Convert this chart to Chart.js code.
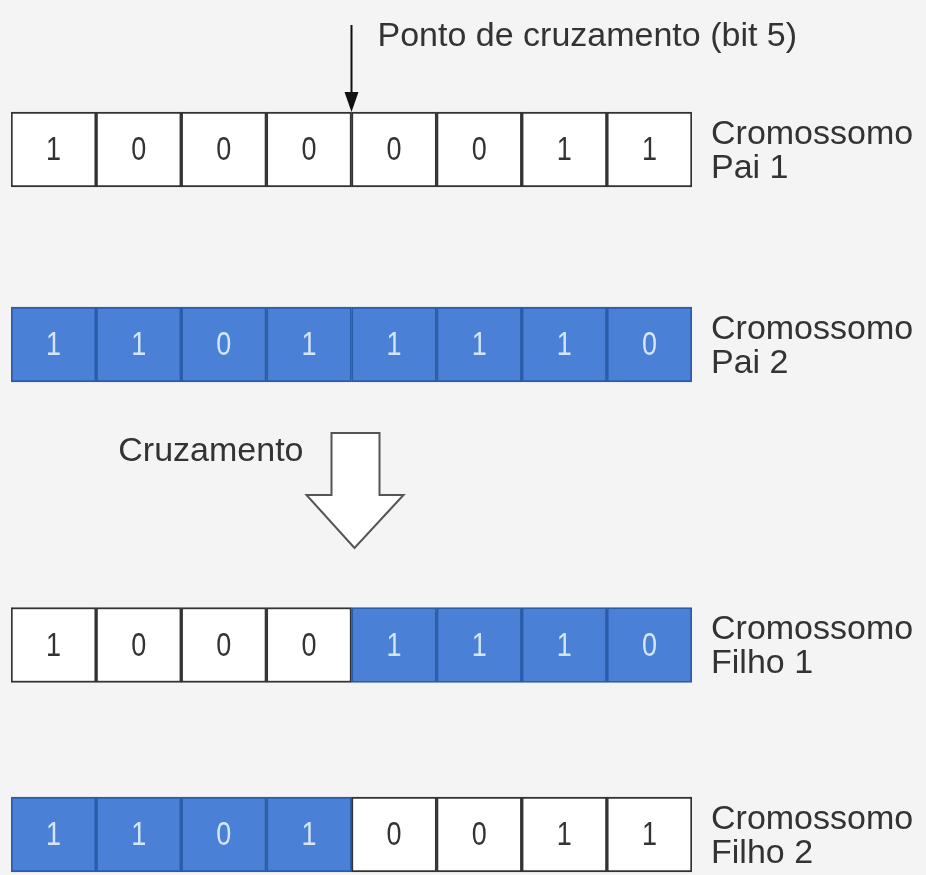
<!DOCTYPE html>
<html>
<head>
<meta charset="utf-8">
<script src="https://cdn.jsdelivr.net/npm/chart.js@4"></script>
<style>
  html, body { margin: 0; padding: 0; background: #f4f4f4; }
  canvas { display: block; }
</style>
</head>
<body>
<canvas id="cross" width="926" height="875"></canvas>
<script>
// bit positions along the chromosome
const bits = ["1", "2", "3", "4", "5", "6", "7", "8"];

// chromosome rows
const rowNames = ["Pai 1", "Pai 2", "Filho 1", "Filho 2"];
const pai1 = [1, 0, 0, 0, 0, 0, 1, 1];
const pai2 = [1, 1, 0, 1, 1, 1, 1, 0];
const filho1 = [1, 0, 0, 0, 1, 1, 1, 0];
const filho2 = [1, 1, 0, 1, 0, 0, 1, 1];
// which parent each gene comes from (1 = Pai 1, 2 = Pai 2)
const src1 = [1, 1, 1, 1, 1, 1, 1, 1];
const src2 = [2, 2, 2, 2, 2, 2, 2, 2];
const srcF1 = [1, 1, 1, 1, 2, 2, 2, 2];
const srcF2 = [2, 2, 2, 2, 1, 1, 1, 1];

const crossBit = 5;
const titleText = "Ponto de cruzamento (bit 5)";
const opText = "Cruzamento";
const rowPrefix = "Cromossomo";

// layout (y scale runs 0..875 top to bottom)
const rowCenter = [149.5, 344.5, 645, 834.5];
const rowHalf = 37.5;

const rows = [pai1, pai2, filho1, filho2];
const srcs = [src1, src2, srcF1, srcF2];

const white = "#ffffff";
const blue = "#4a80d5";
const blueEdge = "#2b5caa";
const dark = "#333333";
const font = "'Liberation Sans', Arial, sans-serif";

const datasets = rows.map((vals, r) => ({
  label: rowNames[r],
  data: vals.map(() => [rowCenter[r] - rowHalf, rowCenter[r] + rowHalf]),
  bits: vals,
  backgroundColor: srcs[r].map(s => s === 1 ? white : blue),
  borderColor: srcs[r].map(s => s === 1 ? dark : blueEdge),
  borderWidth: 2,
  borderSkipped: false,
  grouped: false,
  categoryPercentage: 1,
  barPercentage: 1
}));

const labelsPlugin = {
  id: "diagram",
  afterDatasetsDraw(chart) {
    const ctx = chart.ctx;
    const x = chart.scales.x;
    const y = chart.scales.y;
    ctx.save();
    ctx.textAlign = "center";
    ctx.textBaseline = "middle";
    // digits in cells (slightly tall, like the original)
    ctx.font = "27px " + font;
    chart.data.datasets.forEach((ds, d) => {
      const meta = chart.getDatasetMeta(d);
      meta.data.forEach((bar, i) => {
        ctx.fillStyle = srcs[d][i] === 1 ? "#333333" : "#d6e6fa";
        const cy = (bar.y + bar.base) / 2 + 2;
        ctx.save();
        ctx.translate(bar.x, cy);
        ctx.scale(1, 1.2);
        ctx.fillText(String(ds.bits[i]), 0, 0);
        ctx.restore();
      });
    });

    // row names on the right
    ctx.textAlign = "left";
    ctx.fillStyle = "#333333";
    ctx.font = "34px " + font;
    const right = chart.chartArea.right;
    rowNames.forEach((name, r) => {
      const cy = y.getPixelForValue(rowCenter[r]);
      ctx.fillText(rowPrefix, right + 19, cy - 15);
      ctx.fillText(name, right + 19, cy + 19);
    });

    // crossover point arrow
    const cut = (x.getPixelForValue(crossBit - 2) + x.getPixelForValue(crossBit - 1)) / 2;
    const top1 = y.getPixelForValue(rowCenter[0] - rowHalf);
    ctx.strokeStyle = "#111111";
    ctx.fillStyle = "#111111";
    ctx.lineWidth = 2;
    ctx.beginPath();
    ctx.moveTo(cut, 25);
    ctx.lineTo(cut, top1 - 10);
    ctx.stroke();
    ctx.beginPath();
    ctx.moveTo(cut - 7, top1 - 20);
    ctx.lineTo(cut + 7, top1 - 20);
    ctx.lineTo(cut, top1);
    ctx.closePath();
    ctx.fill();
    ctx.fillStyle = "#333333";
    ctx.font = "34px " + font;
    ctx.fillText(titleText, cut + 26, 37);

    // hollow crossover arrow
    const ax = cut + 3;
    ctx.beginPath();
    ctx.moveTo(ax - 23, 433);
    ctx.lineTo(ax + 25, 433);
    ctx.lineTo(ax + 25, 495);
    ctx.lineTo(ax + 49, 495);
    ctx.lineTo(ax, 548);
    ctx.lineTo(ax - 48, 495);
    ctx.lineTo(ax - 23, 495);
    ctx.closePath();
    ctx.fillStyle = "#ffffff";
    ctx.fill();
    ctx.strokeStyle = "#555555";
    ctx.lineWidth = 2;
    ctx.stroke();
    ctx.fillStyle = "#333333";
    ctx.textAlign = "right";
    ctx.fillText(opText, ax - 51, 452);
    ctx.restore();
  }
};

new Chart(document.getElementById("cross"), {
  type: "bar",
  data: { labels: bits, datasets: datasets },
  options: {
    responsive: false,
    animation: false,
    layout: { padding: { left: 11, right: 234, top: 0, bottom: 0 } },
    plugins: { legend: { display: false }, tooltip: { enabled: false } },
    scales: {
      x: { display: false, offset: true },
      y: { display: false, min: 0, max: 875, reverse: true }
    }
  },
  plugins: [labelsPlugin]
});
</script>
</body>
</html>
